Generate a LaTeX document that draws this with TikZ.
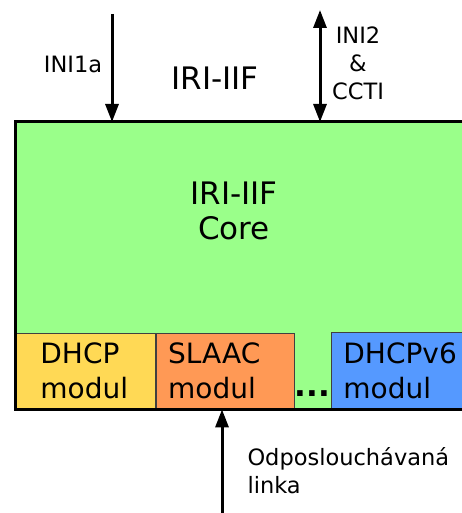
\documentclass[tikz,border=0pt]{standalone}
\usepackage{fontspec}
\setmainfont{DejaVu Sans}
\usetikzlibrary{arrows.meta,positioning}

\definecolor{coreGreen}{HTML}{9AFF8A}
\definecolor{dhcpYellow}{HTML}{FFD955}
\definecolor{slaacOrange}{HTML}{FF9955}
\definecolor{dhcpsixBlue}{HTML}{5599FF}

\begin{document}
\begin{tikzpicture}[
    x=1pt, y=-1pt,
    coreBox/.style={
        rectangle, fill=coreGreen, inner sep=0pt,
        minimum width=470pt, minimum height=287pt
    },
    modBox/.style={
        rectangle, draw=black!75, line width=0.8pt, inner ysep=0pt,
        minimum height=76pt, align=left,
        font=\fontsize{28}{35}\selectfont
    },
    titleText/.style={font=\fontsize{31}{35}\selectfont, align=center},
    lblText/.style={font=\fontsize{22.5}{28}\selectfont, align=center},
    flowArrow/.style={
        -{Triangle[length=18pt, width=13pt]}, line width=3pt, draw=black
    },
    bothArrow/.style={
        {Triangle[length=18pt, width=13pt]}-{Triangle[length=18pt, width=13pt]},
        line width=3pt, draw=black
    }
]
\useasboundingbox (0,0) rectangle (462,513);
\clip (0,0) rectangle (462,513);

% IRI-IIF core block
\node[coreBox, anchor=north west] (core) at (15,122) {};
\node[titleText] (coreLabel) at (234,211) {IRI-IIF\\Core};

% Modules along the bottom
\node[modBox, anchor=south west, minimum width=140pt, text width=90pt,
      inner xsep=25pt, fill=dhcpYellow] (dhcp) at (core.south west) {DHCP\\modul};
\node[modBox, anchor=south west, minimum width=138pt, text width=114pt,
      inner xsep=12pt, fill=slaacOrange] (slaac) at (dhcp.south east) {SLAAC\\modul};
\node[modBox, anchor=south west, minimum width=140pt, text width=116pt,
      inner xsep=12pt, fill=dhcpsixBlue] (dhcpsix) at (331,409) {DHCPv6\\modul};
\node[font=\fontsize{31}{34}\selectfont\bfseries, inner sep=0pt, anchor=base]
      (dots) at (312.5,396) {...};

% Core frame on top
\draw[line width=3pt] (core.south west) rectangle (core.north east);

% Outer labels
\node[titleText] (title) at (215,78) {IRI-IIF};
\node[lblText] (iniOne) at (73,64) {INI1a};
\node[lblText] (iniTwo) at (358,63) {INI2\\\&\\CCTI};
\node[lblText, align=left, anchor=north west] (link) at (244,444)
      {Odposlouchávaná\\linka};

% Interfaces
\coordinate (iniOneStart) at (112,14);
\coordinate (iniTwoStart) at (320,10);
\coordinate (linkStart) at (222,513);
\draw[flowArrow] (iniOneStart) -- (iniOneStart |- core.north);
\draw[bothArrow] (iniTwoStart) -- (iniTwoStart |- core.north);
\draw[flowArrow] (linkStart) -- (linkStart |- core.south);

\end{tikzpicture}
\end{document}
